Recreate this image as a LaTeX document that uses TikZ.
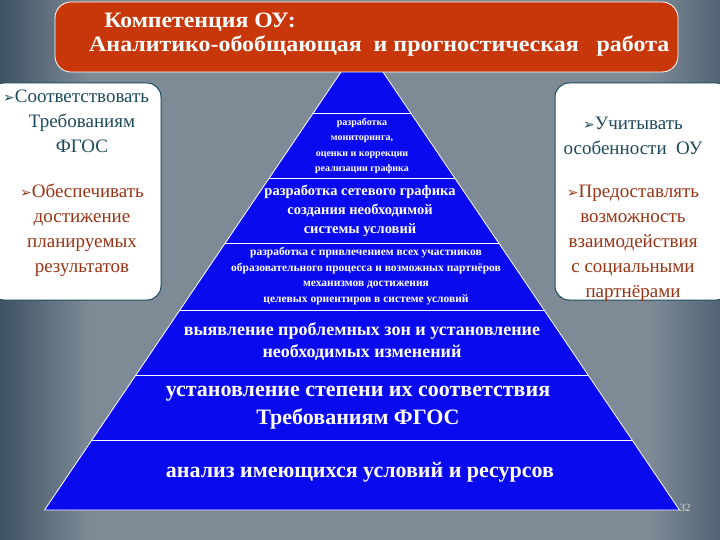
\documentclass[tikz,border=0pt]{standalone}
\usepackage{fontspec}
\setmainfont{Liberation Serif}
\newfontfamily\symf{DejaVu Sans}
\newcommand{\arr}{{\symf\fontsize{14}{14}\selectfont ➢}}
\definecolor{bg}{HTML}{7E8B97}
\definecolor{bgd}{HTML}{3E5262}
\definecolor{tred}{HTML}{C8370A}
\definecolor{pblue}{HTML}{0A0AEE}
\definecolor{teal}{HTML}{1C4A5A}
\definecolor{brn}{HTML}{9A3414}
\begin{document}
\begin{tikzpicture}[x=1pt,y=-1pt,
  band/.style={text=white,font=\bfseries,align=center,inner sep=0pt},
  side/.style={draw=teal,line width=1pt,fill=white,rounded corners=14pt},
  lbl/.style={align=center,inner sep=0pt}]
\useasboundingbox (0,0) rectangle (720,540);
\fill[bg] (0,0) rectangle (720,540);
\shade[left color=bgd,right color=bg] (0,0) rectangle (90,540);
\shade[left color=bg,right color=bgd!70!bg] (650,0) rectangle (720,540);
% pyramid
\fill[pblue,draw=white,line width=0.8pt] (362,41) coordinate (apex) -- (44.5,510) coordinate (bl) -- (679.5,510) coordinate (br) -- cycle;
\foreach \y in {113,178,243,310,375,440}{
  \pgfmathsetmacro{\hw}{(\y-41)*0.677}
  \draw[white,line width=0.9pt] (362-\hw,\y) -- (362+\hw,\y);
}
\node[band,font=\bfseries\fontsize{10}{15.5}\selectfont] (b1) at (362,146) {разработка\\мониторинга,\\оценки и коррекции\\реализации графика};
\node[band,font=\bfseries\fontsize{14.5}{19}\selectfont] (b2) at (360,211) {разработка сетевого графика\\создания необходимой\\системы условий};
\node[band,font=\bfseries\fontsize{11.5}{15.5}\selectfont] (b3) at (366,276) {разработка с привлечением всех участников\\образовательного процесса и возможных партнёров\\механизмов достижения\\целевых ориентиров в системе условий};
\node[band,font=\bfseries\fontsize{18}{22}\selectfont] (b4) at (362,342) {выявление проблемных зон и установление\\необходимых изменений};
\node[band,font=\bfseries\fontsize{22}{28}\selectfont] (b5) at (358,408) {установление степени их соответствия\\Требованиям ФГОС};
\node[band,font=\bfseries\fontsize{22}{22}\selectfont] (b6) at (360,472) {анализ имеющихся условий и ресурсов};
% title
\draw[fill=tred,draw=white,line width=0.8pt,rounded corners=16pt] (55,2) rectangle (678,72);
\node[lbl,text=white,font=\bfseries\fontsize{22}{24}\selectfont,align=left,anchor=west] (title) at (89,35) {\scalebox{1.08}[1]{\hspace*{14pt}Компетенция ОУ:}\\\scalebox{1.088}[1]{Аналитико-обобщающая\ \ и прогностическая\ \ \ работа}};
% side boxes
\draw[side] (-10,83) rectangle (161,300);
\node[lbl,text=teal,font=\fontsize{19}{25}\selectfont] (l1) at (82,121) {\llap{\arr}Соответствовать\\Требованиям\\ФГОС};
\node[lbl,text=brn,font=\fontsize{19}{25}\selectfont] (l2) at (82,230) {\arr Обеспечивать\\достижение\\планируемых\\результатов};
\draw[side] (555,83) rectangle (730,300);
\node[lbl,text=teal,font=\fontsize{19}{25}\selectfont] (r1) at (633,136) {\arr Учитывать\\особенности\ \ ОУ};
\node[lbl,text=brn,font=\fontsize{19}{25}\selectfont] (r2) at (633,243) {\arr Предоставлять\\возможность\\взаимодействия\\с социальными\\партнёрами};
\node[lbl,text=white!85!black,font=\fontsize{11}{11}\selectfont] (pg) at (685,508) {32};
\end{tikzpicture}
\end{document}
